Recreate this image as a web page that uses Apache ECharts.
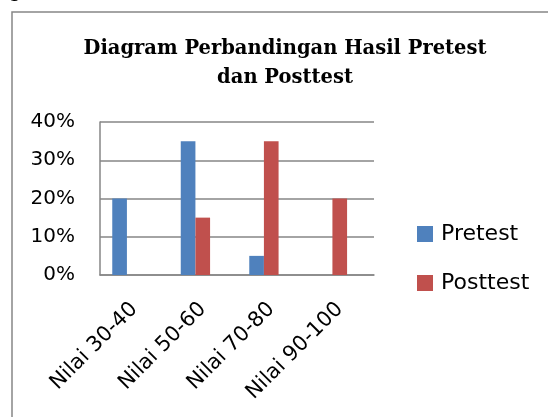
<!DOCTYPE html>
<html>
<head>
<meta charset="utf-8">
<title>Diagram Perbandingan</title>
<script src="https://cdn.jsdelivr.net/npm/echarts@6/dist/echarts.min.js"></script>
<style>
html, body { margin: 0; padding: 0; background: #fff; }
#bar { width: 548px; height: 417px; }
</style>
</head>
<body>
<div id="bar"></div>
<script>
// data
var categories = ['Nilai 30-40', 'Nilai 50-60', 'Nilai 70-80', 'Nilai 90-100'];
var pretest = [20, 35, 5, 0];
var posttest = [0, 15, 35, 20];
var kosong = [null, null, null, null]; // seri ketiga kosong (tempatnya tetap dipakai)

var myChart = echarts.init(document.getElementById('bar'));
var option = {
    backgroundColor: '#fff',
    animation: false,
    legend: {
        data: ['Pretest', 'Posttest'],
        orient: 'vertical',
        left: 417,
        top: 223,
        padding: 0,
        itemWidth: 16,
        itemHeight: 16,
        itemGap: 27,
        icon: 'rect',
        textStyle: {
            fontFamily: 'DejaVu Sans',
            fontSize: 22,
            color: '#000',
            padding: [0, 0, 0, 3]
        }
    },
    grid: {
        left: 100,
        right: 174,
        top: 122,
        bottom: 142
    },
    xAxis: {
        type: 'category',
        data: categories,
        axisLine: { lineStyle: { color: '#868686', width: 1.5 } },
        axisTick: { show: false },
        axisLabel: {
            rotate: 45,
            margin: 31,
            fontFamily: 'DejaVu Sans',
            fontSize: 21,
            color: '#000'
        }
    },
    yAxis: {
        type: 'value',
        min: 0,
        max: 40,
        interval: 10,
        axisLine: { show: true, lineStyle: { color: '#868686', width: 1.5 } },
        axisTick: { show: false },
        splitLine: { lineStyle: { color: '#868686', width: 1.5 } },
        axisLabel: {
            formatter: '{value}%',
            margin: 25,
            fontFamily: 'DejaVu Sans',
            fontSize: 20,
            color: '#000'
        }
    },
    series: [
        {
            name: 'Pretest',
            type: 'bar',
            data: pretest,
            barGap: '0%',
            barCategoryGap: '35.8%',
            itemStyle: { color: '#4F81BD' }
        },
        {
            name: 'Posttest',
            type: 'bar',
            data: posttest,
            itemStyle: { color: '#C0504D' }
        },
        {
            name: 'Seri3',
            type: 'bar',
            data: kosong,
            itemStyle: { color: '#9BBB59' }
        }
    ],
    graphic: [
        {
            // judul, dua baris rata tengah
            type: 'text',
            x: 285,
            y: 34,
            style: {
                text: 'Diagram Perbandingan Hasil Pretest\ndan Posttest',
                fontFamily: 'DejaVu Serif',
                fontWeight: 'bold',
                fontSize: 19.5,
                lineHeight: 29,
                fill: '#000',
                align: 'center',
                verticalAlign: 'top'
            },
            silent: true
        },
        {
            // bingkai grafik
            type: 'rect',
            shape: { x: 12, y: 12, width: 560, height: 430 },
            style: { fill: 'none', stroke: '#868686', lineWidth: 1.5 },
            silent: true
        },
        {
            // sisa huruf dari teks di atasnya
            type: 'text',
            x: 9,
            y: 2,
            style: {
                text: 'g',
                fontFamily: 'DejaVu Serif',
                fontSize: 20,
                fill: '#000',
                verticalAlign: 'bottom'
            },
            silent: true
        }
    ]
};
myChart.setOption(option);
</script>
</body>
</html>
